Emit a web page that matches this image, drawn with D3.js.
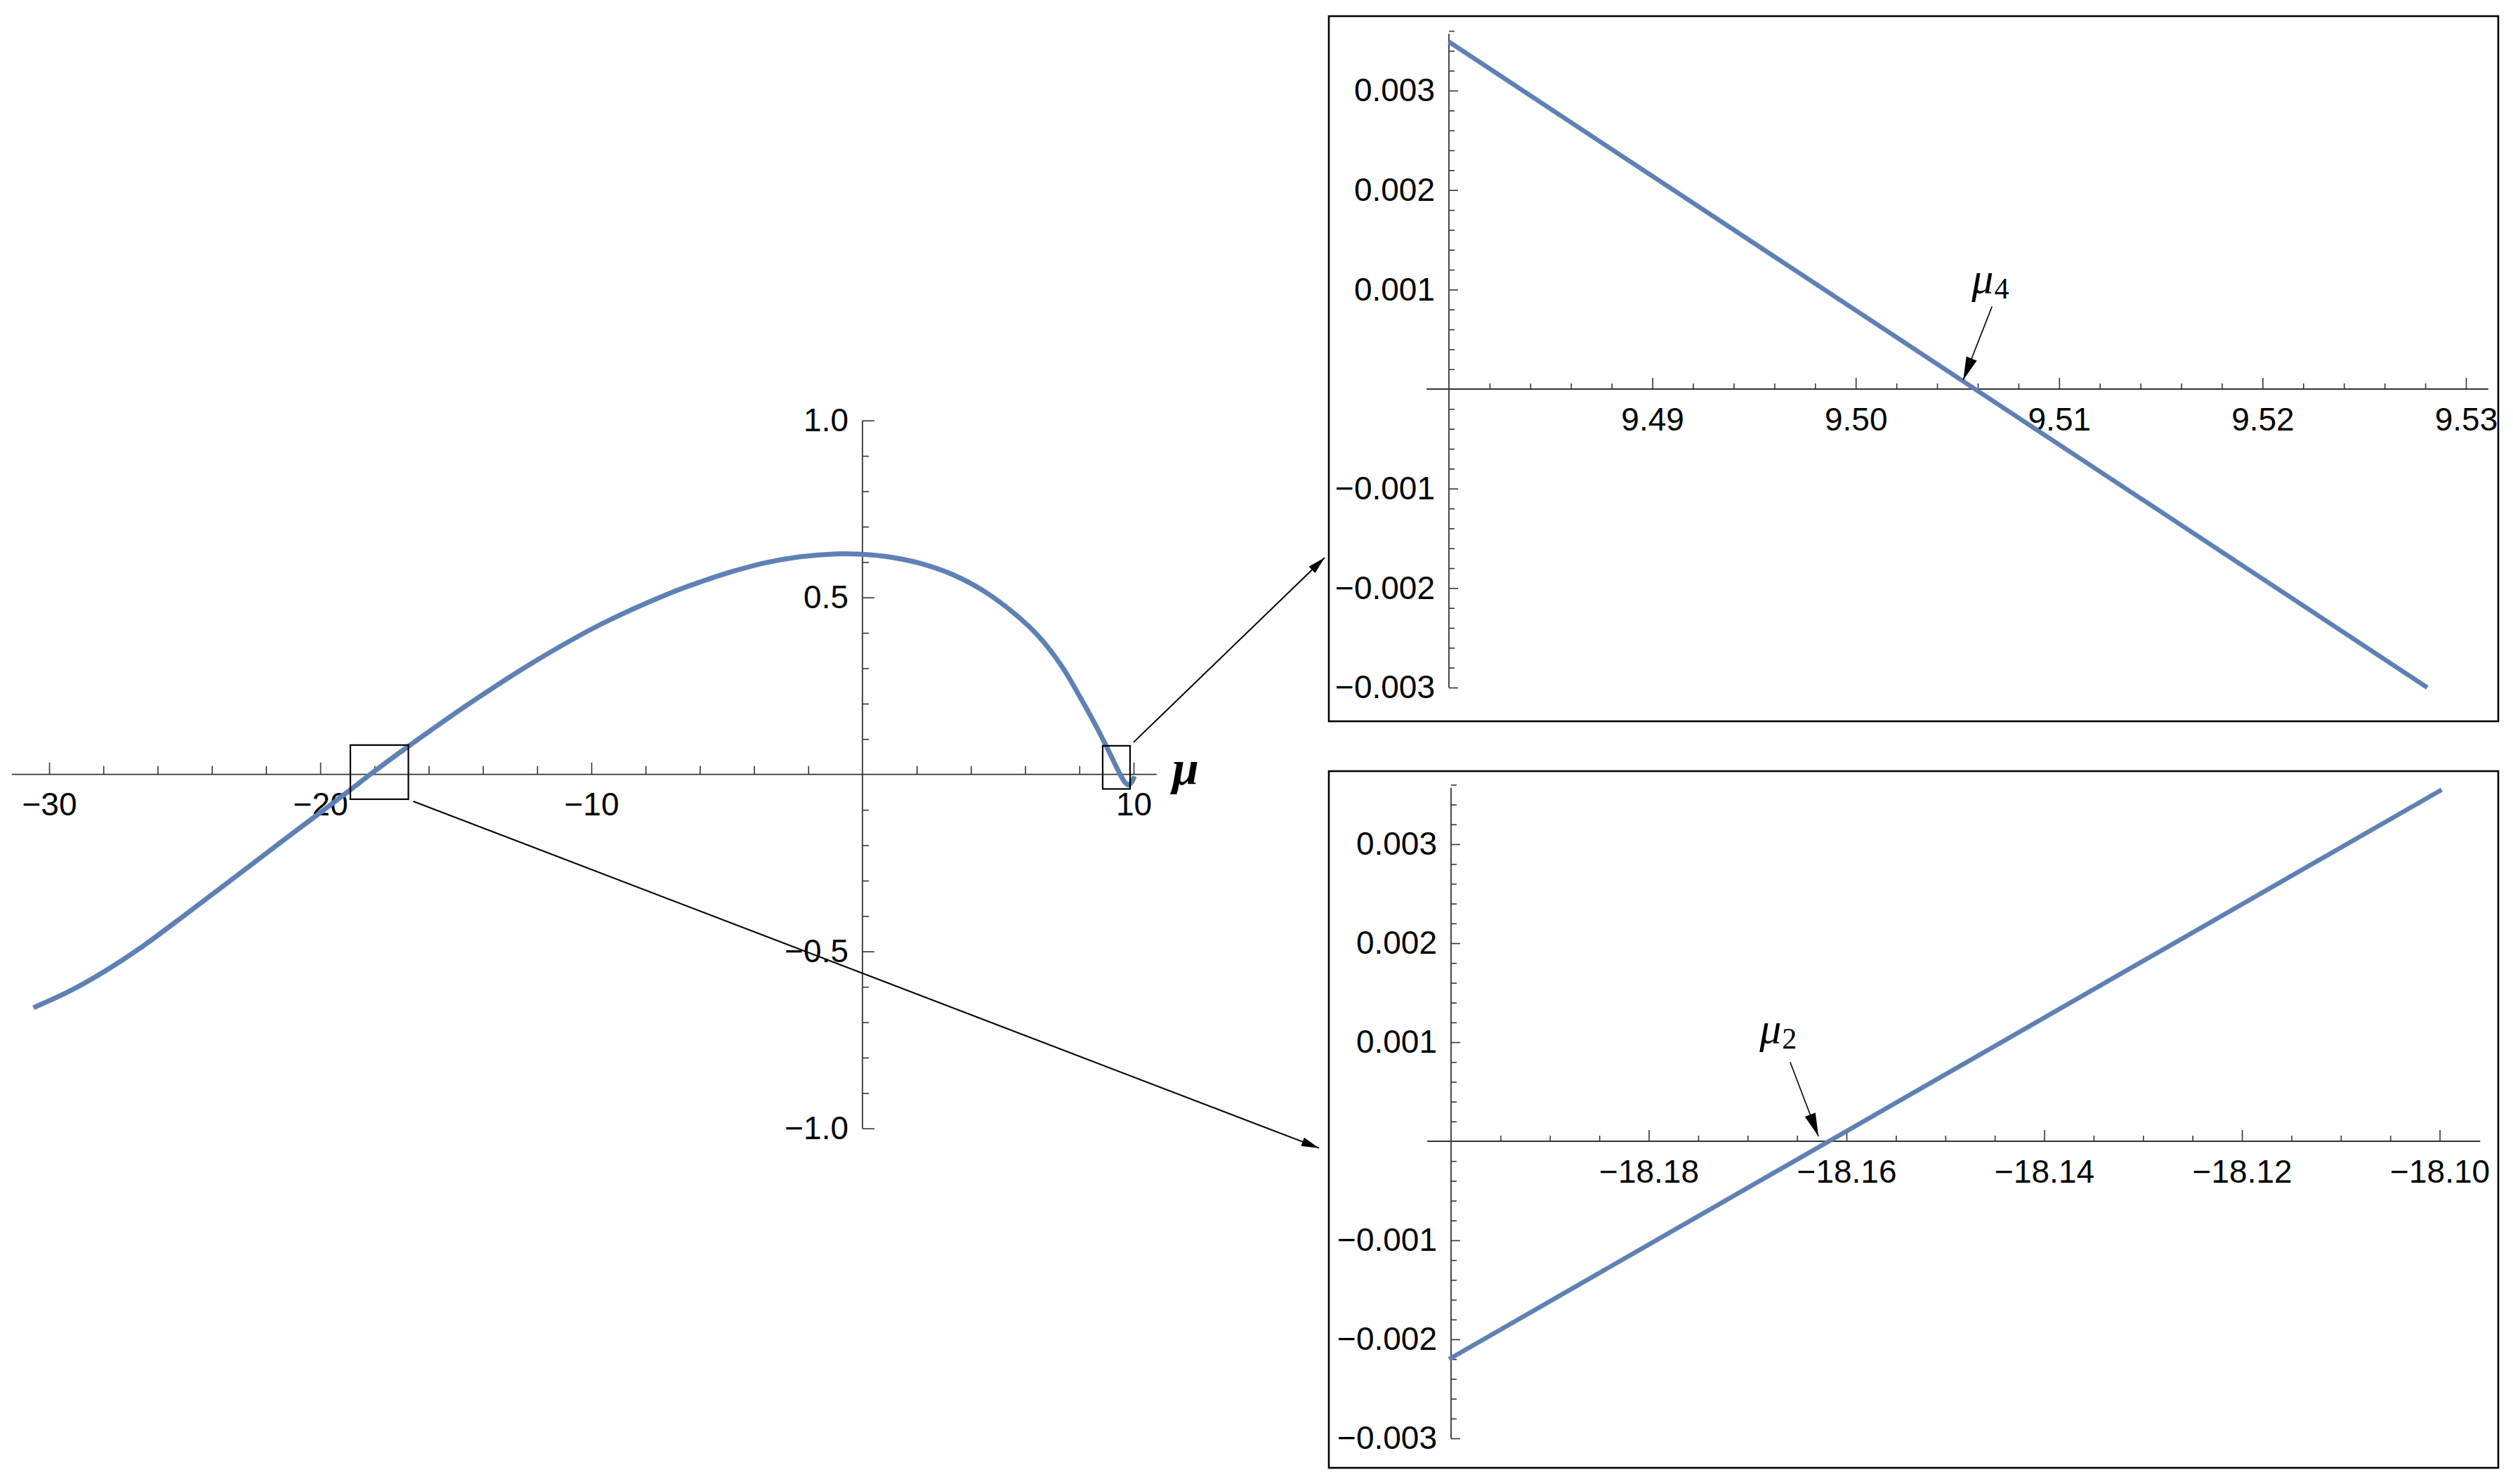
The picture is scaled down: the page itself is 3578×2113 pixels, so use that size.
<!DOCTYPE html>
<html>
<head>
<meta charset="utf-8">
<script src="https://cdn.jsdelivr.net/npm/d3@7"></script>
<style>
  html, body { margin: 0; padding: 0; background: #fff; }
  svg { display: block; }
</style>
</head>
<body>
<svg id="chart" width="3578" height="2113"></svg>
<script>
// ---------------- DATA ----------------
// main curve f(mu)
const mainMu = [-30.58,-29.22,-27.93,-26.63,-25.34,-24.04,-22.75,-21.45,-20.16,-18.95,-18.16,-16.65,-14.41,-12.16,-9.63,-7.11,-5.9,-4.86,-3.59,-2.3,-1.0,0,1.03,2.2,3.35,4.5,5.66,6.5,7.35,8.0,8.6,9.0,9.38,9.505,9.69,9.82,9.97,10.03];
const mainF  = [-0.659,-0.611,-0.555,-0.490,-0.417,-0.342,-0.267,-0.191,-0.117,-0.047,0,0.085,0.205,0.316,0.425,0.512,0.546,0.572,0.598,0.615,0.623,0.622,0.614,0.595,0.564,0.517,0.451,0.390,0.306,0.222,0.139,0.079,0.019,0,-0.023,-0.030,-0.016,-0.005];

// zoom near mu4
const inset1Mu = [9.48, 9.5281];
const inset1F  = [0.00349, -0.0030];
// zoom near mu2
const inset2Mu = [-18.2002, -18.0998];
const inset2F  = [-0.0022, 0.00355];

// tick values and labels
const mainXTicks = [-30, -20, -10, 10];
const mainXLabels = ["\u221230", "\u221220", "\u221210", "10"];
const mainYTicks = [-1, -0.5, 0.5, 1];
const mainYLabels = ["\u22121.0", "\u22120.5", "0.5", "1.0"];
const inset1XTicks = [9.49, 9.50, 9.51, 9.52, 9.53];
const inset1XLabels = ["9.49", "9.50", "9.51", "9.52", "9.53"];
const inset2XTicks = [-18.18, -18.16, -18.14, -18.12, -18.10];
const inset2XLabels = ["\u221218.18", "\u221218.16", "\u221218.14", "\u221218.12", "\u221218.10"];
const insetYTicks = [-0.003, -0.002, -0.001, 0.001, 0.002, 0.003];
const insetYLabels = ["\u22120.003", "\u22120.002", "\u22120.001", "0.001", "0.002", "0.003"];

// zoom boxes drawn on the main plot (data coordinates)
const boxMu4 = { x: [8.86, 9.87], y: [-0.041, 0.081] };
const boxMu2 = { x: [-18.89, -16.75], y: [-0.070, 0.083] };

// annotation anchors (data coordinates)
const mu4Label = { x: 9.5057, y: 0.00097 };
const mu4Arrow = { from: [9.5067, 0.00083], to: [9.50528, 0.00009] };
const mu2Label = { x: -18.1688, y: 0.00099 };
const mu2Arrow = { from: [-18.1657, 0.00080], to: [-18.16284, 0.00005] };

// ---------------- LAYOUT ----------------
const svg = d3.select("#chart");
svg.append("rect").attr("width", 3578).attr("height", 2113).attr("fill", "#fff");

const FONT = "'Liberation Sans', Arial, Helvetica, sans-serif";
const SERIF = "'Liberation Serif', 'Times New Roman', serif";
const AX = "#333";
const LINE = "#5E81B5";

const xMain = d3.scaleLinear().domain([-30, 10]).range([70, 1614]);
const yMain = d3.scaleLinear().domain([-1, 1]).range([1606.7, 598.7]);

const frame1 = { x0: 1892, x1: 3557, y0: 23, y1: 1027 };
const frame2 = { x0: 1892, x1: 3557, y0: 1098, y1: 2090 };

const x1s = d3.scaleLinear().domain([9.48, 9.53]).range([2063, 3511]);
const y1s = d3.scaleLinear().domain([-0.003, 0.003]).range([979, 129]);
const x2s = d3.scaleLinear().domain([-18.20, -18.10]).range([2066, 3473.6]);
const y2s = d3.scaleLinear().domain([-0.003, 0.003]).range([2048, 1202]);

// markers
const defs = svg.append("defs");
defs.append("marker")
  .attr("id", "arrow").attr("markerUnits", "userSpaceOnUse")
  .attr("viewBox", "-34 -9 36 18").attr("refX", 0).attr("refY", 0)
  .attr("markerWidth", 36).attr("markerHeight", 18).attr("orient", "auto")
  .append("path").attr("d", "M0,0 L-33,-8 L-33,8 Z").attr("fill", "#000");
defs.append("marker")
  .attr("id", "arrowS").attr("markerUnits", "userSpaceOnUse")
  .attr("viewBox", "-26 -8 28 16").attr("refX", 0).attr("refY", 0)
  .attr("markerWidth", 28).attr("markerHeight", 16).attr("orient", "auto")
  .append("path").attr("d", "M0,0 L-25,-6.5 L-25,6.5 Z").attr("fill", "#000");

function styleAxis(g) {
  g.select(".domain").remove();
  g.selectAll("line").attr("stroke", AX).attr("stroke-width", 1.6);
  g.selectAll("text").attr("fill", "#000").attr("font-size", 46).attr("font-family", FONT);
}

function drawAxes(xs, ys, opts) {
  const g = svg.append("g");
  const y0 = ys(0), x0 = xs(opts.xOrigin);
  g.append("line").attr("x1", xs(opts.xExtent[0])).attr("x2", xs(opts.xExtent[1]))
    .attr("y1", y0).attr("y2", y0).attr("stroke", AX).attr("stroke-width", 1.8);
  g.append("line").attr("x1", x0).attr("x2", x0)
    .attr("y1", ys(opts.yExtent[0])).attr("y2", ys(opts.yExtent[1]))
    .attr("stroke", AX).attr("stroke-width", 1.8);
  g.append("g").attr("transform", `translate(0,${y0})`)
    .call(d3.axisBottom(xs).tickValues(opts.xMinor).tickFormat("").tickSizeInner(-opts.minorX).tickSizeOuter(0))
    .call(styleAxis);
  g.append("g").attr("transform", `translate(0,${y0})`)
    .call(d3.axisBottom(xs).tickValues(opts.xTicks).tickFormat((d, i) => opts.xLabels[i])
      .tickSizeInner(-opts.majorX).tickSizeOuter(0).tickPadding(26))
    .call(styleAxis);
  g.append("g").attr("transform", `translate(${x0},0)`)
    .call(d3.axisLeft(ys).tickValues(opts.yMinor).tickFormat("").tickSizeInner(-opts.minorY).tickSizeOuter(0))
    .call(styleAxis);
  g.append("g").attr("transform", `translate(${x0},0)`)
    .call(d3.axisLeft(ys).tickValues(opts.yTicks).tickFormat((d, i) => opts.yLabels[i])
      .tickSizeInner(-opts.majorY).tickSizeOuter(0).tickPadding(20))
    .call(styleAxis);
}

function near(v, arr, eps) { return arr.some(a => Math.abs(a - v) < eps); }

// ---------- main plot ----------
drawAxes(xMain, yMain, {
  xOrigin: 0,
  xExtent: [-31.38, 10.85],
  yExtent: [-1, 1],
  xTicks: mainXTicks, xLabels: mainXLabels,
  xMinor: d3.range(-30, 10.001, 2).filter(v => !near(v, mainXTicks, 1e-6) && Math.abs(v) > 1e-6),
  yTicks: mainYTicks, yLabels: mainYLabels,
  yMinor: d3.range(-10, 11).map(v => v / 10).filter(v => !near(v, mainYTicks, 1e-6) && Math.abs(v) > 1e-6),
  majorX: 17, minorX: 12, majorY: 17, minorY: 9
});

const mainData = mainMu.map((m, i) => [m, mainF[i]]);
svg.append("path").datum(mainData)
  .attr("fill", "none").attr("stroke", LINE).attr("stroke-width", 7)
  .attr("stroke-linejoin", "round")
  .attr("d", d3.line().x(d => xMain(d[0])).y(d => yMain(d[1])).curve(d3.curveCatmullRom.alpha(0.5)));

// mu axis label
svg.append("text").attr("x", xMain(10) + 55).attr("y", yMain(0) + 14)
  .attr("font-family", SERIF)
  .attr("font-style", "italic").attr("font-weight", "bold").attr("font-size", 68)
  .attr("fill", "#000").text("\u03bc");

// boxes
function drawBox(b) {
  svg.append("rect")
    .attr("x", xMain(b.x[0])).attr("y", yMain(b.y[1]))
    .attr("width", xMain(b.x[1]) - xMain(b.x[0]))
    .attr("height", yMain(b.y[0]) - yMain(b.y[1]))
    .attr("fill", "none").attr("stroke", "#000").attr("stroke-width", 2.2);
}
drawBox(boxMu4);
drawBox(boxMu2);

// connectors
svg.append("line")
  .attr("x1", xMain(boxMu4.x[1]) + 5).attr("y1", yMain(boxMu4.y[1]) - 5)
  .attr("x2", frame1.x0 - 6).attr("y2", frame1.y0 + 0.768 * (frame1.y1 - frame1.y0))
  .attr("stroke", "#000").attr("stroke-width", 2).attr("marker-end", "url(#arrowS)");
svg.append("line")
  .attr("x1", xMain(boxMu2.x[1]) + 7).attr("y1", yMain(boxMu2.y[0]) + 3)
  .attr("x2", frame2.x0 - 14).attr("y2", frame2.y0 + 0.541 * (frame2.y1 - frame2.y0))
  .attr("stroke", "#000").attr("stroke-width", 2).attr("marker-end", "url(#arrowS)");

// ---------- insets ----------
function frame(f) {
  svg.append("rect").attr("x", f.x0).attr("y", f.y0)
    .attr("width", f.x1 - f.x0).attr("height", f.y1 - f.y0)
    .attr("fill", "none").attr("stroke", "#000").attr("stroke-width", 2.6);
}
frame(frame1);
frame(frame2);

const insetYMinor = d3.range(-15, 19).map(v => v * 0.0002).filter(v => !near(v, insetYTicks, 1e-9) && Math.abs(v) > 1e-9);

drawAxes(x1s, y1s, {
  xOrigin: 9.48,
  xExtent: [9.4789, 9.5311],
  yExtent: [-0.003, 0.00357],
  xTicks: inset1XTicks, xLabels: inset1XLabels,
  xMinor: d3.range(1, 26).map(v => 9.48 + v * 0.002).filter(v => !near(v, inset1XTicks, 1e-7)),
  yTicks: insetYTicks, yLabels: insetYLabels,
  yMinor: insetYMinor,
  majorX: 16, minorX: 8, majorY: 13, minorY: 8
});

drawAxes(x2s, y2s, {
  xOrigin: -18.20,
  xExtent: [-18.2024, -18.0959],
  yExtent: [-0.003, 0.00357],
  xTicks: inset2XTicks, xLabels: inset2XLabels,
  xMinor: d3.range(1, 21).map(v => -18.20 + v * 0.005).filter(v => !near(v, inset2XTicks, 1e-7)),
  yTicks: insetYTicks, yLabels: insetYLabels,
  yMinor: insetYMinor,
  majorX: 16, minorX: 8, majorY: 13, minorY: 8
});

const lineGen = (xs, ys) => d3.line().x(d => xs(d[0])).y(d => ys(d[1]));
svg.append("path").datum(inset1Mu.map((m, i) => [m, inset1F[i]]))
  .attr("fill", "none").attr("stroke", LINE).attr("stroke-width", 6.5)
  .attr("d", lineGen(x1s, y1s));
svg.append("path").datum(inset2Mu.map((m, i) => [m, inset2F[i]]))
  .attr("fill", "none").attr("stroke", LINE).attr("stroke-width", 6.5)
  .attr("d", lineGen(x2s, y2s));

// annotations
function muLabel(xs, ys, lab, sub) {
  const t = svg.append("text").attr("x", xs(lab.x)).attr("y", ys(lab.y))
    .attr("font-family", SERIF).attr("fill", "#000");
  t.append("tspan").attr("font-style", "italic").attr("font-size", 62).text("\u03bc");
  t.append("tspan").attr("font-size", 42).attr("dy", 8).attr("dx", 1).text(sub);
}
function muArrow(xs, ys, a) {
  svg.append("line")
    .attr("x1", xs(a.from[0])).attr("y1", ys(a.from[1]))
    .attr("x2", xs(a.to[0])).attr("y2", ys(a.to[1]))
    .attr("stroke", "#000").attr("stroke-width", 1.6).attr("marker-end", "url(#arrow)");
}
muLabel(x1s, y1s, mu4Label, "4");
muArrow(x1s, y1s, mu4Arrow);
muLabel(x2s, y2s, mu2Label, "2");
muArrow(x2s, y2s, mu2Arrow);
</script>
</body>
</html>
